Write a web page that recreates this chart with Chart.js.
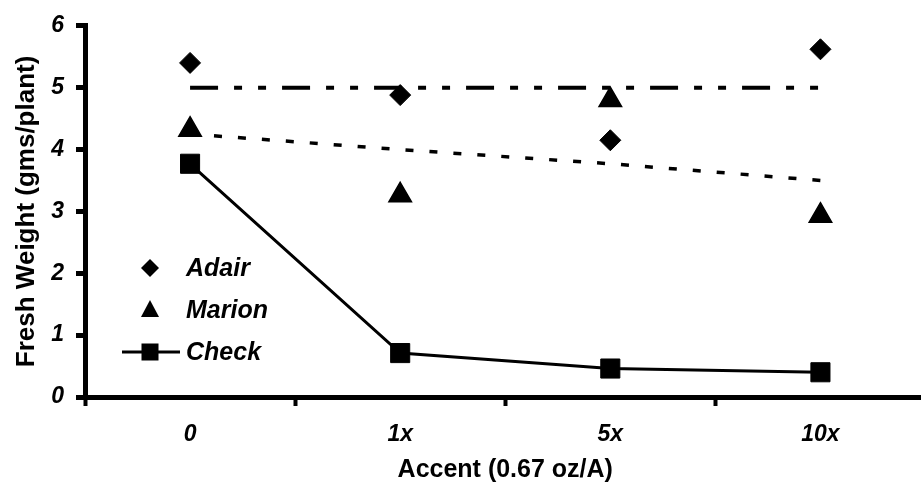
<!DOCTYPE html>
<html>
<head>
<meta charset="utf-8">
<script src="https://cdn.jsdelivr.net/npm/chart.js@4/dist/chart.umd.min.js"></script>
<style>
  html, body { margin: 0; padding: 0; background: #fff; overflow: hidden; }
  #chart { display: block; }
</style>
</head>
<body>
<canvas id="chart" width="940" height="483"></canvas>
<script>
// Fresh weight by Accent rate
const rates = ['0', '1x', '5x', '10x'];
const adair = [5.40, 4.88, 4.15, 5.62];
const marion = [4.32, 3.26, 4.80, 2.93];
const check = [3.77, 0.71, 0.46, 0.40];
const adairMean = [5.0, 5.0, 5.0, 5.0];
const marionTrend = [4.25, 4.0, 3.77, 3.5];
const yTicks = [0, 1, 2, 3, 4, 5, 6];
const legendNames = ['Adair', 'Marion', 'Check'];

const tickFont = { family: 'Liberation Sans, Arial, sans-serif', size: 23, weight: 'bold', style: 'italic' };
const titleFont = { family: 'Liberation Sans, Arial, sans-serif', size: 25, weight: 'bold', lineHeight: 1 };

// Legend drawn inside the plot, lower left
const legendPlugin = {
    id: 'plotLegend',
    afterDraw(chart) {
        const ctx = chart.ctx;
        const x = 150;
        const rows = [268, 310, 352];
        ctx.save();
        ctx.fillStyle = '#000';
        ctx.strokeStyle = '#000';

        // diamond
        ctx.beginPath();
        ctx.moveTo(x, rows[0] - 9);
        ctx.lineTo(x + 9, rows[0]);
        ctx.lineTo(x, rows[0] + 9);
        ctx.lineTo(x - 9, rows[0]);
        ctx.closePath();
        ctx.fill();

        // triangle
        ctx.beginPath();
        ctx.moveTo(x, rows[1] - 10);
        ctx.lineTo(x + 9, rows[1] + 7);
        ctx.lineTo(x - 9, rows[1] + 7);
        ctx.closePath();
        ctx.fill();

        // line with square
        ctx.lineWidth = 3;
        ctx.beginPath();
        ctx.moveTo(122, rows[2]);
        ctx.lineTo(180, rows[2]);
        ctx.stroke();
        ctx.fillRect(x - 8.5, rows[2] - 8.5, 17, 17);

        ctx.font = 'italic bold 25px "Liberation Sans", Arial, sans-serif';
        ctx.textBaseline = 'middle';
        ctx.textAlign = 'left';
        legendNames.forEach((name, i) => {
            ctx.fillText(name, 186, rows[i] + 1);
        });
        ctx.restore();
    }
};

const ctx = document.getElementById('chart').getContext('2d');
new Chart(ctx, {
    type: 'line',
    data: {
        labels: rates,
        datasets: [
            {
                label: 'Adair',
                data: adair,
                showLine: false,
                pointStyle: 'rectRot',
                pointRadius: 10.5,
                pointBackgroundColor: '#000',
                pointBorderColor: '#000',
                pointBorderWidth: 1
            },
            {
                label: 'Marion',
                data: marion,
                showLine: false,
                pointStyle: 'triangle',
                pointRadius: 13,
                pointBackgroundColor: '#000',
                pointBorderColor: '#000',
                pointBorderWidth: 1.5
            },
            {
                label: 'Check',
                data: check,
                borderColor: '#000',
                borderWidth: 3,
                tension: 0,
                pointStyle: 'rect',
                pointRadius: 13.5,
                pointBackgroundColor: '#000',
                pointBorderColor: '#000',
                pointBorderWidth: 1
            },
            {
                label: 'Adair mean',
                data: adairMean,
                borderColor: '#000',
                borderWidth: 4,
                borderDash: [28, 16, 8, 16, 8, 16],
                pointRadius: 0
            },
            {
                label: 'Marion trend',
                data: marionTrend,
                borderColor: '#000',
                borderWidth: 3.5,
                borderDash: [8, 16],
                pointRadius: 0
            }
        ]
    },
    options: {
        responsive: false,
        animation: false,
        devicePixelRatio: 1,
        layout: { padding: { top: 25, right: 13, left: 0, bottom: 0 } },
        plugins: {
            legend: { display: false },
            tooltip: { enabled: false }
        },
        scales: {
            x: {
                offset: true,
                grid: {
                    offset: true,
                    drawOnChartArea: false,
                    drawTicks: true,
                    tickLength: 9,
                    tickWidth: 4,
                    tickColor: '#000',
                    color: '#000'
                },
                border: { color: '#000', width: 5 },
                ticks: { font: tickFont, color: '#000', padding: 15, maxRotation: 0 },
                title: {
                    display: true,
                    text: 'Accent (0.67 oz/A)',
                    font: titleFont,
                    color: '#000',
                    padding: { top: 0, bottom: 0 }
                },
                afterFit(scale) { scale.height = 86; }
            },
            y: {
                min: 0,
                max: 6,
                afterBuildTicks(scale) { scale.ticks = yTicks.map(v => ({ value: v })); },
                grid: {
                    drawOnChartArea: false,
                    drawTicks: true,
                    tickLength: 9,
                    tickWidth: 5,
                    tickColor: '#000',
                    color: '#000'
                },
                border: { color: '#000', width: 5 },
                ticks: { font: tickFont, color: '#000', padding: 12 },
                title: {
                    display: true,
                    text: 'Fresh Weight (gms/plant)',
                    font: { family: 'Liberation Sans, Arial, sans-serif', size: 26, weight: 'bold', lineHeight: 1 },
                    color: '#000',
                    padding: { top: 14, bottom: 0 }
                },
                afterFit(scale) { scale.width = 85; }
            }
        }
    },
    plugins: [legendPlugin]
});
</script>
</body>
</html>
